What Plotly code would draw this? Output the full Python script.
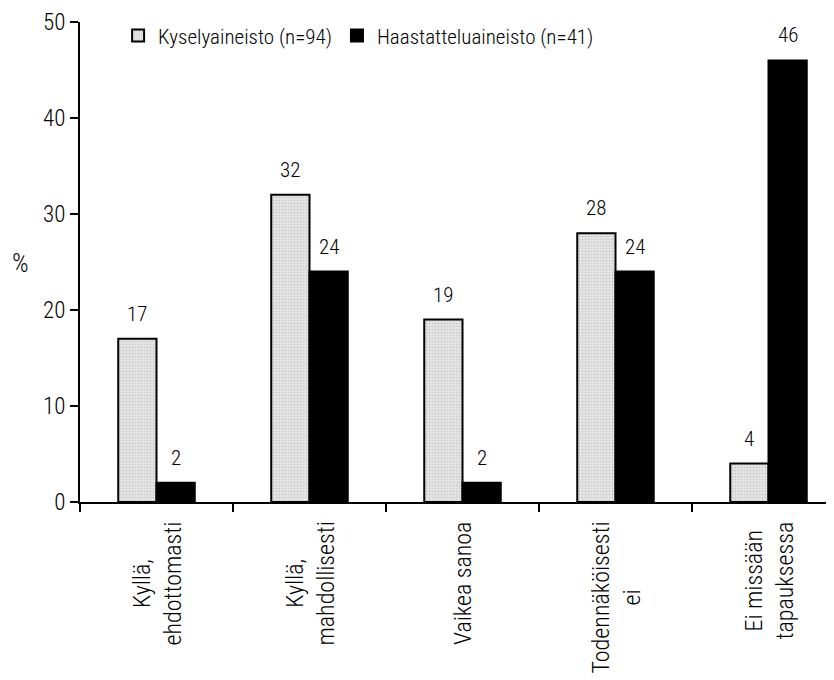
import plotly.graph_objects as go

categories = ["Kyllä,<br>ehdottomasti", "Kyllä,<br>mahdollisesti", "Vaikea sanoa",
              "Todennäköisesti<br>ei", "Ei missään<br>tapauksessa"]
kysely = [17, 32, 19, 28, 4]
haastattelu = [2, 24, 2, 24, 46]
series_names = ["Kyselyaineisto (n=94)", "Haastatteluaineisto (n=41)"]
y_ticks = [0, 10, 20, 30, 40, 50]

FONT = "Roboto Condensed, Liberation Sans Narrow, Arial Narrow, Liberation Sans, sans-serif"
x_idx = list(range(len(categories)))

L, R, T, B = 72, 0, 14, 186
W, H = 834, 680
PW, PH = W - L - R, H - T - B

fig = go.Figure()
fig.add_trace(go.Bar(
    x=x_idx, y=kysely, name=series_names[0],
    marker=dict(color="#dedede", line=dict(color="black", width=2),
                pattern=dict(shape=".", size=3, solidity=0.25, fgcolor="#a8a8a8", bgcolor="#e4e4e4")),
))
fig.add_trace(go.Bar(
    x=x_idx, y=haastattelu, name=series_names[1],
    marker=dict(color="black", line=dict(color="black", width=2)),
))

annotations = []
off = 0.125
for i, (a, b) in enumerate(zip(kysely, haastattelu)):
    annotations.append(dict(x=i - off, y=a, xref="x", yref="y", text=str(a), showarrow=False,
                            yanchor="bottom", yshift=11, font=dict(size=21, color="black")))
    annotations.append(dict(x=i + off, y=b, xref="x", yref="y", text=str(b), showarrow=False,
                            yanchor="bottom", yshift=11, font=dict(size=21, color="black")))
for i, c in enumerate(categories):
    annotations.append(dict(x=i, y=0, xref="x", yref="y", text=c, showarrow=False,
                            textangle=-90, yanchor="top", xanchor="center", align="center",
                            yshift=-18, font=dict(size=24)))
annotations.append(dict(x=(12 - L) / PW, y=(H - B - 255) / PH, xref="paper", yref="paper",
                        text="%", showarrow=False, xanchor="center", yanchor="middle",
                        font=dict(size=26)))

fig.update_layout(
    width=W, height=H,
    margin=dict(l=L, r=R, t=T, b=B, autoexpand=False),
    paper_bgcolor="white", plot_bgcolor="white",
    font=dict(family=FONT, size=22, color="black", weight=300),
    barmode="group", bargap=0.5, bargroupgap=0,
    showlegend=True,
    legend=dict(orientation="h", x=0.05, y=1.014, xanchor="left", yanchor="top",
                font=dict(size=21), tracegroupgap=0, bgcolor="rgba(0,0,0,0)"),
    xaxis=dict(range=[-0.5, -0.5 + PW / 153.0], tickmode="array",
               tickvals=[-0.5, 0.5, 1.5, 2.5, 3.5], ticktext=["", "", "", "", ""],
               ticks="outside", ticklen=8, tickwidth=2, tickcolor="black",
               showline=True, linecolor="black", linewidth=2, showgrid=False, zeroline=False),
    yaxis=dict(range=[0, 50], tickmode="array", tickvals=y_ticks,
               ticks="outside", ticklen=8, tickwidth=2, tickcolor="black",
               showline=True, linecolor="black", linewidth=2, showgrid=False, zeroline=False,
               tickfont=dict(size=23)),
    annotations=annotations,
)

fig.write_html("out.html")
